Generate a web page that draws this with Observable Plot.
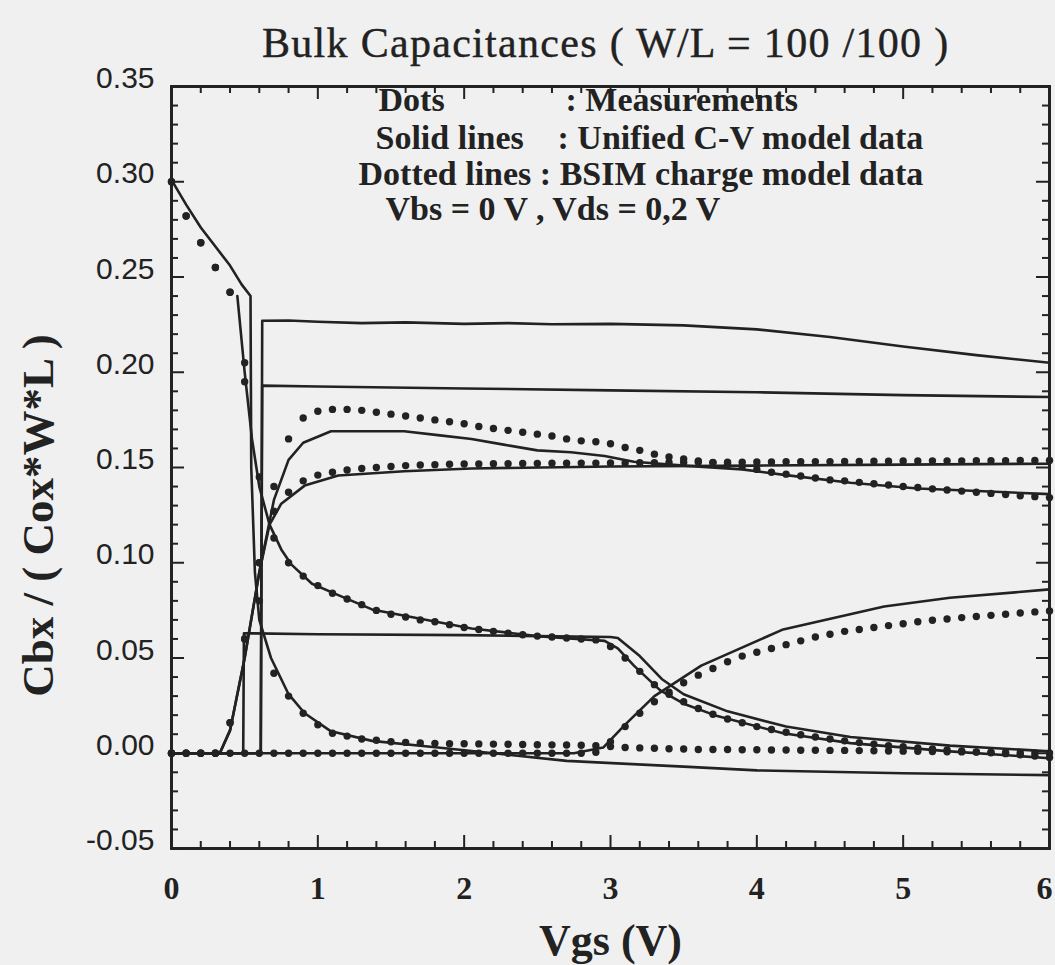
<!DOCTYPE html>
<html><head><meta charset="utf-8">
<script src="https://cdn.jsdelivr.net/npm/d3@7"></script>
<script src="https://cdn.jsdelivr.net/npm/@observablehq/plot@0.6"></script>
<style>
html,body{margin:0;padding:0;background:#f0f0f0;}
body{width:1055px;height:965px;overflow:hidden;position:relative;}
#title{position:absolute;left:262px;top:22px;font-family:"Liberation Serif",serif;font-size:42px;line-height:42px;letter-spacing:1.3px;color:#222;white-space:nowrap;-webkit-text-stroke:0.4px #222;}
#chart{position:absolute;left:0;top:80px;}
#ticks{position:absolute;left:0;top:80px;pointer-events:none;z-index:2;}
</style></head>
<body>
<div id="title"></div>
<div id="chart"></div>
<div id="ticks"></div>
<script>
// ---------- data ----------
const titleText = "Bulk Capacitances ( W/L = 100 /100 )";
const xLabel = "Vgs (V)";
const yLabel = "Cbx / ( Cox*W*L )";
const xTicks = [0,1,2,3,4,5,6];
const xTickLabels = ["0","1","2","3","4","5","6"];
const yTicks = [-0.05,0,0.05,0.10,0.15,0.20,0.25,0.30,0.35];
const yTickLabels = ["-0.05","0.00","0.05","0.10","0.15","0.20","0.25","0.30","0.35"];
const legendLines = [
  ["Dots", ": Measurements"],
  ["Solid lines", ": Unified C-V model data"],
  ["Dotted lines : BSIM charge model data"],
  ["Vbs = 0 V , Vds = 0,2 V"]
];

// measurement grid (Vgs)
const vgs = [0,0.1,0.2,0.3,0.4,0.5,0.6,0.7,0.8,0.9,
 1.0,1.1,1.2,1.3,1.4,1.5,1.6,1.7,1.8,1.9,
 2.0,2.1,2.2,2.3,2.4,2.5,2.6,2.7,2.8,2.9,
 3.0,3.1,3.2,3.3,3.4,3.5,3.6,3.7,3.8,3.9,
 4.0,4.1,4.2,4.3,4.4,4.5,4.6,4.7,4.8,4.9,
 5.0,5.1,5.2,5.3,5.4,5.5,5.6,5.7,5.8,5.9,6.0];

// measured dots
const measLowDecay = [0.300,0.282,0.268,0.255,0.242,0.195,0.080,0.042,0.030,0.021,
 0.015,0.0105,0.009,0.0075,0.0068,0.006,0.0057,0.0054,0.0052,0.005,
 0.005,0.0049,0.0048,0.0047,0.0046,0.0045,0.0044,0.0043,0.0042,0.004,
 0.0035,0.003,0.0028,0.0026,0.0024,0.0022,0.002,0.002,0.002,0.0018,
 0.0018,0.0017,0.0017,0.0016,0.0016,0.0015,0.0015,0.0014,0.0013,0.0012,
 0.0011,0.001,0.0009,0.0008,0.0007,0.0006,0.0005,0.0004,0.0003,0.0002,0.0001];
const measHighDecay = [0.300,0.282,0.268,0.255,0.242,0.205,0.145,0.113,0.100,0.093,
 0.088,0.084,0.081,0.078,0.075,0.073,0.0715,0.070,0.069,0.0675,
 0.066,0.065,0.064,0.063,0.0622,0.0615,0.061,0.0605,0.060,0.0595,
 0.056,0.050,0.043,0.036,0.031,0.027,0.0235,0.0205,0.018,0.016,
 0.014,0.0125,0.011,0.0097,0.0085,0.0075,0.0065,0.0056,0.0048,0.004,
 0.0034,0.0028,0.0022,0.0017,0.0012,0.0007,0.0003,-0.0002,-0.0008,-0.0015,-0.0022];
const measPeak = [0,0,0,0,0.016,0.06,0.1,0.14,0.165,0.176,
 0.1795,0.1805,0.1805,0.180,0.179,0.178,0.177,0.176,0.175,0.174,
 0.173,0.1715,0.1705,0.1695,0.1685,0.1675,0.1665,0.165,0.164,0.1635,
 0.1625,0.1605,0.159,0.157,0.1555,0.1545,0.1535,0.1525,0.1515,0.1505,
 0.149,0.1475,0.1465,0.1455,0.1445,0.1435,0.143,0.1422,0.1415,0.1408,
 0.140,0.1395,0.1388,0.1382,0.1376,0.137,0.1364,0.1358,0.1352,0.1347,0.1342];
const measFlat = [0,0,0,0,0.016,0.06,0.1,0.127,0.137,0.143,
 0.146,0.1475,0.1487,0.1495,0.150,0.1505,0.151,0.1513,0.1515,0.1517,
 0.1518,0.1519,0.152,0.152,0.1521,0.1521,0.1522,0.1522,0.1523,0.1523,
 0.1524,0.1524,0.1525,0.1525,0.1526,0.1526,0.1527,0.1527,0.1528,0.1528,
 0.1529,0.1529,0.153,0.153,0.1531,0.1531,0.1532,0.1532,0.1533,0.1533,
 0.1534,0.1534,0.1535,0.1535,0.1535,0.1536,0.1536,0.1536,0.1537,0.1537,0.1537];
const measSat = [0,0,0,0,0,0,0,0,0,0,
 0,0,0,0,0,0,0,0,0,0,
 0,0,0,0,0,0,0,0,0,0.0005,
 0.006,0.014,0.021,0.027,0.032,0.037,0.041,0.0445,0.048,0.051,
 0.053,0.055,0.057,0.059,0.061,0.0625,0.064,0.065,0.066,0.067,
 0.068,0.069,0.0698,0.0705,0.0712,0.0718,0.0724,0.073,0.0736,0.0742,0.0747];

// model lines
const cbgModelX = [0,0.1,0.2,0.3,0.4,0.48,0.54,0.545,0.57,0.6,0.68,0.8,0.91,1.09,1.37,1.82,2.2,2.7,3.5,4.0,5.0,6.0];
const cbgModelY = [0.301,0.288,0.276,0.266,0.256,0.246,0.240,0.15,0.095,0.07,0.05,0.031,0.021,0.0115,0.0065,0.003,0.0,-0.004,-0.007,-0.009,-0.0105,-0.0115];
const decModelX = [0.45,0.5,0.55,0.6,0.67,0.75,0.82,0.96,1.14,1.37,1.71,2.05,2.5,2.96,3.05,3.16,3.34,3.5,3.73,4.18,4.64,5.32,6.0];
const decModelY = [0.24,0.2,0.165,0.14,0.12,0.107,0.099,0.089,0.083,0.0755,0.0705,0.0655,0.0615,0.059,0.055,0.046,0.033,0.026,0.0195,0.0105,0.0053,0.001,-0.0026];
const step062X = [0,0.49,0.495,1.0,2.0,2.5,3.0,3.05,3.2,3.35,3.5,3.8,4.2,4.64,5.32,6.0];
const step062Y = [0,0,0.063,0.0625,0.062,0.0615,0.061,0.0605,0.051,0.039,0.031,0.022,0.014,0.0085,0.004,0.001];
const peakModelX = [0,0.33,0.4,0.5,0.6,0.7,0.8,0.9,1.09,1.59,1.82,2.05,2.27,2.5,2.73,2.96,3.16,3.5,3.9,4.2,4.64,5.1,5.55,6.0];
const peakModelY = [0,0,0.012,0.05,0.095,0.133,0.154,0.163,0.169,0.169,0.167,0.165,0.162,0.159,0.158,0.156,0.153,0.151,0.149,0.146,0.142,0.139,0.1375,0.136];
const flatModelX = [0,0.33,0.4,0.5,0.6,0.67,0.75,0.91,1.14,1.59,2.05,3.0,4.0,5.0,6.0];
const flatModelY = [0,0,0.012,0.05,0.095,0.12,0.131,0.1405,0.1458,0.148,0.1495,0.1505,0.151,0.1515,0.152];
const satModelX = [0,2.75,2.95,3.1,3.3,3.62,4.18,4.87,5.32,6.0];
const satModelY = [0,0,0.003,0.015,0.03,0.046,0.065,0.077,0.0816,0.086];
const step227X = [0,0.61,0.62,0.8,1.0,1.3,1.6,2.0,2.3,2.6,3.0,3.5,4.0,4.5,5.0,5.5,6.0];
const step227Y = [0,0,0.227,0.2272,0.2265,0.2258,0.2262,0.2254,0.2258,0.2252,0.2254,0.2246,0.2225,0.2185,0.2135,0.209,0.205];
const step193X = [0,0.61,0.62,1.0,2.0,3.0,4.0,5.0,6.0];
const step193Y = [0,0,0.193,0.1925,0.1915,0.1905,0.1895,0.188,0.187];

// ---------- build ----------
const ink = "#222";
const serif = "Liberation Serif, serif";
const sans = "Liberation Sans, sans-serif";
const W = 1055, H = 885;
const mT = 6, mB = 117, mL = 171, mR = 6;
const plotW = W - mL - mR, plotH = H - mT - mB;
const xDom = [0, 6], yDom = [-0.05, 0.35];
const pxX = (xDom[1] - xDom[0]) / plotW, pxY = (yDom[1] - yDom[0]) / plotH;
const majorLen = 13, minorLen = 7;
const frameOpts = {width: W, height: H, marginTop: mT, marginBottom: mB, marginLeft: mL, marginRight: mR,
  x: {domain: xDom, axis: null}, y: {domain: yDom, axis: null},
  style: {background: "transparent", color: ink, overflow: "visible"}};

const zip = (xs, ys) => xs.map((x, i) => ({x, y: ys[i]}));
const lines = [
  zip(cbgModelX, cbgModelY), zip(decModelX, decModelY), zip(step062X, step062Y),
  zip(peakModelX, peakModelY), zip(flatModelX, flatModelY), zip(satModelX, satModelY),
  zip(step227X, step227Y), zip(step193X, step193Y)
];
const dots = [measLowDecay, measHighDecay, measPeak, measFlat, measSat].map(ys => zip(vgs, ys));

const xMinor = d3.range(0, 6.0001, 0.2).filter(v => Math.abs(v - Math.round(v)) > 1e-6);
const yMinor = d3.range(-5, 36).map(i => i / 100).filter(v => Math.abs(v * 20 - Math.round(v * 20)) > 1e-6);

// main chart: curves, dots and texts
const marks = [];
marks.push(Plot.frame({stroke: ink, strokeWidth: 2.8}));
for (const l of lines) marks.push(Plot.line(l, {x: "x", y: "y", stroke: ink, strokeWidth: 2.6}));
for (const d of dots) marks.push(Plot.dot(d, {x: "x", y: "y", r: 3.7, fill: ink, stroke: "none"}));
marks.push(Plot.text(xTicks.slice(0, 6), {x: d => d, text: (d, i) => xTickLabels[i], frameAnchor: "bottom", dy: 40, lineAnchor: "middle", fontFamily: serif, fontWeight: "bold", fontSize: 32, fill: ink}));
marks.push(Plot.text(xTicks.slice(6), {x: d => d, text: () => xTickLabels[6], frameAnchor: "bottom", dx: -5, dy: 40, lineAnchor: "middle", fontFamily: serif, fontWeight: "bold", fontSize: 32, fill: ink}));
marks.push(Plot.text(yTicks, {y: d => d, text: (d, i) => yTickLabels[i], frameAnchor: "left", dx: -17, dy: -8, textAnchor: "end", lineAnchor: "middle", fontFamily: sans, fontSize: 30, fill: ink}));
marks.push(Plot.text([xLabel], {text: d => d, frameAnchor: "bottom", dy: 92, textAnchor: "middle", lineAnchor: "middle", fontFamily: serif, fontWeight: "bold", fontSize: 44, fill: ink}));
marks.push(Plot.text([yLabel], {text: d => d, frameAnchor: "left", dx: -133, dy: 48, rotate: -90, textAnchor: "middle", lineAnchor: "middle", fontFamily: serif, fontWeight: "bold", fontSize: 45, fill: ink}));
const legendPos = [[[207, 14], [394, 14]], [[204, 52], [386, 52]], [[187, 88]], [[214, 123]]];
legendLines.forEach((parts, r) => parts.forEach((t, c) => {
  marks.push(Plot.text([t], {text: d => d, frameAnchor: "top-left", dx: legendPos[r][c][0], dy: legendPos[r][c][1], textAnchor: "start", lineAnchor: "middle", fontFamily: serif, fontWeight: "bold", fontSize: 34, fill: ink}));
}));
const chart = Plot.plot({...frameOpts, marks});
d3.select(chart).selectAll("text").filter(function() { return this.textContent.length > 8 && this.getAttribute("font-size") === "34"; }).attr("letter-spacing", "1px");
document.getElementById("chart").appendChild(chart);

// overlay with the same scales: frame and inward ticks on all four sides
const tickMarks = [Plot.frame({stroke: ink, strokeWidth: 2.8})];
for (const [vals, len] of [[xTicks, majorLen], [xMinor, minorLen]]) {
  tickMarks.push(Plot.ruleX(vals, {x: d => d, y1: yDom[0], y2: yDom[0] + len * pxY, stroke: ink, strokeWidth: 2}));
  tickMarks.push(Plot.ruleX(vals, {x: d => d, y1: yDom[1], y2: yDom[1] - len * pxY, stroke: ink, strokeWidth: 2}));
}
for (const [vals, len] of [[yTicks, majorLen], [yMinor, minorLen]]) {
  tickMarks.push(Plot.ruleY(vals, {y: d => d, x1: xDom[0], x2: xDom[0] + len * pxX, stroke: ink, strokeWidth: 2}));
  tickMarks.push(Plot.ruleY(vals, {y: d => d, x1: xDom[1], x2: xDom[1] - len * pxX, stroke: ink, strokeWidth: 2}));
}
const tickChart = Plot.plot({...frameOpts, marks: tickMarks});
document.getElementById("ticks").appendChild(tickChart);
document.getElementById("title").textContent = titleText;
</script>
</body></html>
